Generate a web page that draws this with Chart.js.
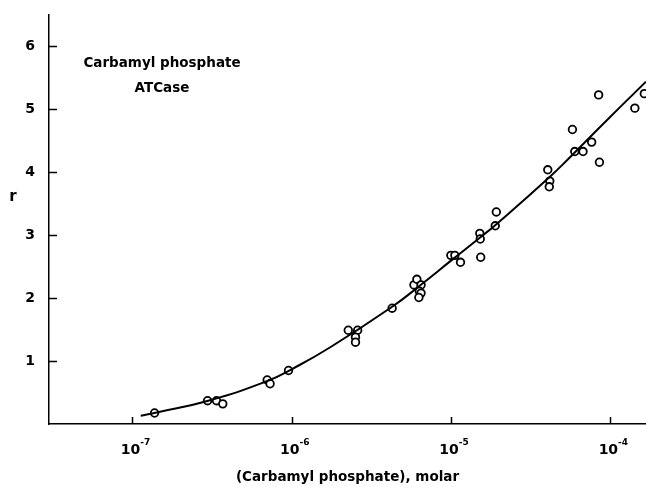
<!DOCTYPE html>
<html>
<head>
<meta charset="utf-8">
<script src="https://cdn.jsdelivr.net/npm/chart.js@4.4.0/dist/chart.umd.min.js"></script>
<style>
    body { margin: 0; background: #fff; }
    #wrap { width: 646px; height: 487px; }
</style>
</head>
<body>
<div id="wrap"><canvas id="chart"></canvas></div>
<script>
// measured points: carbamyl phosphate (molar) vs r
const concentration = [1.38e-7, 2.97e-7, 3.38e-7, 3.70e-7, 7.03e-7, 7.33e-7, 9.57e-7,
    2.27e-6, 2.60e-6, 2.52e-6, 2.52e-6, 4.28e-6, 5.87e-6, 6.12e-6, 6.50e-6, 6.34e-6, 6.50e-6, 6.30e-6,
    1.00e-5, 1.06e-5, 1.15e-5, 1.52e-5, 1.53e-5, 1.54e-5, 1.93e-5, 1.90e-5,
    4.06e-5, 4.18e-5, 4.15e-5, 5.80e-5, 6.00e-5, 6.76e-5, 7.66e-5, 8.47e-5, 8.57e-5, 1.43e-4, 1.64e-4];
const rValues = [0.175, 0.37, 0.37, 0.32, 0.70, 0.64, 0.85,
    1.49, 1.49, 1.38, 1.30, 1.84, 2.21, 2.30, 2.21, 2.11, 2.08, 2.01,
    2.68, 2.68, 2.57, 3.03, 2.94, 2.65, 3.37, 3.15,
    4.04, 3.86, 3.77, 4.68, 4.33, 4.33, 4.48, 5.23, 4.16, 5.02, 5.25];

// hand drawn fit curve
const curveConc = [1.13e-7, 1.4e-7, 3e-7, 7e-7, 1e-6, 1.75e-6, 4.26e-6, 6.4e-6, 1.03e-5, 1.52e-5, 1.94e-5, 4.19e-5, 5.6e-5, 1e-4, 1.68e-4];
const curveR = [0.13, 0.18, 0.37, 0.68, 0.87, 1.22, 1.86, 2.20, 2.62, 2.96, 3.18, 3.93, 4.24, 4.88, 5.44];

const xDecades = [-7, -6, -5, -4];
const yTicks = [1, 2, 3, 4, 5, 6];

const FONT = '"DejaVu Sans", sans-serif';

const axisDecor = {
    id: 'axisDecor',
    afterDraw(chart) {
        const ctx = chart.ctx;
        const { left, bottom } = chart.chartArea;
        const xs = chart.scales.x;
        const ys = chart.scales.y;
        ctx.save();
        ctx.strokeStyle = '#000';
        ctx.lineWidth = 1.5;
        ctx.beginPath();
        yTicks.forEach(v => {
            const y = Math.round(ys.getPixelForValue(v)) + 0.5;
            ctx.moveTo(left, y);
            ctx.lineTo(left + 8, y);
        });
        xDecades.forEach(p => {
            const x = Math.round(xs.getPixelForValue(Math.pow(10, p))) + 0.5;
            ctx.moveTo(x, bottom);
            ctx.lineTo(x, bottom - 7);
        });
        ctx.stroke();

        ctx.fillStyle = '#000';
        ctx.textBaseline = 'alphabetic';
        xDecades.forEach(p => {
            const x = xs.getPixelForValue(Math.pow(10, p));
            ctx.font = 'bold 14px ' + FONT;
            ctx.textAlign = 'right';
            ctx.fillText('10', x + 8, 454);
            ctx.font = 'bold 9px ' + FONT;
            ctx.textAlign = 'left';
            ctx.fillText('-' + Math.abs(p), x + 8, 445);
        });

        ctx.font = 'bold 15px ' + FONT;
        ctx.textAlign = 'center';
        ctx.fillText('r', 13, 201);

        ctx.font = 'bold 13.5px ' + FONT;
        ctx.fillText('Carbamyl phosphate', 162, 67);
        ctx.fillText('ATCase', 162, 92);
        ctx.restore();
    }
};

new Chart(document.getElementById('chart'), {
    type: 'scatter',
    data: {
        datasets: [
            {
                label: 'fit',
                data: curveConc.map((c, i) => ({ x: c, y: curveR[i] })),
                showLine: true,
                borderColor: '#000',
                borderWidth: 2,
                pointRadius: 0,
                tension: 0.5,
                fill: false
            },
            {
                label: 'measured',
                data: concentration.map((c, i) => ({ x: c, y: rValues[i] })),
                pointStyle: 'circle',
                pointRadius: 3.8,
                pointBorderWidth: 1.8,
                pointBorderColor: '#000',
                pointBackgroundColor: '#fff'
            }
        ]
    },
    options: {
        responsive: true,
        maintainAspectRatio: false,
        animation: false,
        layout: { autoPadding: false, padding: { top: 15, right: 0, left: 0, bottom: 0 } },
        plugins: {
            legend: { display: false },
            tooltip: { enabled: false }
        },
        scales: {
            x: {
                type: 'logarithmic',
                min: 3.05e-8,
                max: 1.68e-4,
                grid: { display: false, drawTicks: false },
                border: { display: true, color: '#000', width: 1.5 },
                ticks: { display: false },
                afterBuildTicks: s => { s.ticks = s.ticks.filter(t => xDecades.some(p => Math.abs(Math.log10(t.value) - p) < 1e-6)); },
                afterFit: s => { s.height = 63; },
                title: {
                    display: true,
                    text: '(Carbamyl phosphate), molar',
                    color: '#000',
                    font: { family: FONT, size: 13.5, weight: 'bold' },
                    padding: { top: 0, bottom: 1 }
                }
            },
            y: {
                min: 0,
                max: 6.5,
                grid: { display: false, drawTicks: false },
                border: { display: true, color: '#000', width: 1.5 },
                ticks: {
                    stepSize: 1,
                    padding: 14,
                    color: '#000',
                    font: { family: FONT, size: 14, weight: 'bold' },
                    callback: v => yTicks.includes(v) ? String(v) : ''
                },
                afterFit: s => { s.width = 49; s.paddingTop = 0; s.paddingBottom = 0; }
            }
        }
    },
    plugins: [axisDecor]
});
</script>
</body>
</html>
